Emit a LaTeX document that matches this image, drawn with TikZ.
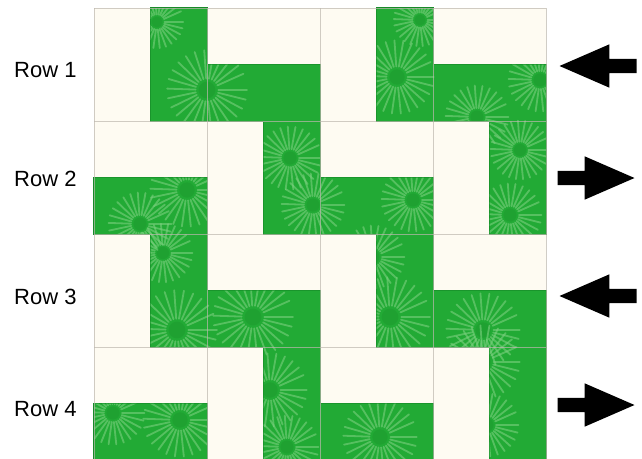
\documentclass[tikz,border=0pt]{standalone}
\usepackage{fontspec}
\setmainfont{Liberation Sans}
\usetikzlibrary{shapes.arrows}
\definecolor{cream}{HTML}{FEFBF2}
\definecolor{fabric}{HTML}{22AA35}
\definecolor{petal}{HTML}{7AD07E}
\definecolor{seam}{HTML}{BDB8AF}
\definecolor{hem}{HTML}{178A28}
\newcommand{\sunburst}[3]{\foreach \a in {0,14,...,346} \draw[petal,line width=1.8pt,line cap=round,opacity=0.6] (#1,#2) ++(\a:0.3*#3) -- ++(\a:0.75*#3);
  \fill[hem,opacity=0.25] (#1,#2) circle (0.22*#3);}

\begin{document}
\begin{tikzpicture}[x=1pt,y=-1pt]
\tikzstyle{rowlabel}=[inner sep=0pt,font=\fontsize{22}{26}\selectfont]
\tikzstyle{blockarrow}=[single arrow,fill=black,inner xsep=0pt,inner ysep=7pt,minimum height=77pt,single arrow head extend=14.5pt,single arrow tip angle=47,anchor=tip]
\tikzstyle{halves}=[insert path={foreach \r/\c in {1/1,1/3,2/2,2/4,3/1,3/3,4/2,4/4} {({113*\c-19+56.5},{113*\r-105}) rectangle +(56.5,113)}
  foreach \r/\c in {1/2,1/4,2/1,2/3,3/2,3/4,4/1,4/3} {({113*\c-19},{113*\r-105+56.5}) rectangle +(113,56.5)}}]
\clip (0,0) rectangle (642,458);
\fill[white] (0,0) rectangle (642,458);
\fill[cream] (94,8) rectangle (546,460);
% green halves of each block
\draw[hem,line width=1.2pt,halves];
\begin{scope}
\path[clip,halves];
\fill[fabric] (94,8) rectangle (546,460);
\sunburst{207}{90}{38} \sunburst{397}{77}{35} \sunburst{540}{80}{30} \sunburst{477}{117}{30}
\sunburst{157}{22}{25} \sunburst{187}{190}{35} \sunburst{140}{224}{30} \sunburst{290}{158}{30}
\sunburst{313}{205}{30} \sunburst{413}{200}{30} \sunburst{510}{215}{30} \sunburst{520}{150}{28}
\sunburst{177}{330}{38} \sunburst{253}{317}{38} \sunburst{390}{317}{38} \sunburst{483}{330}{35}
\sunburst{373}{257}{30} \sunburst{163}{253}{28} \sunburst{270}{390}{35} \sunburst{180}{420}{35}
\sunburst{113}{413}{30} \sunburst{380}{437}{35} \sunburst{483}{362}{35} \sunburst{487}{425}{30}
\sunburst{287}{447}{30} \sunburst{420}{20}{25}
\end{scope}
% seams between blocks
\foreach \i in {0,...,4} {
  \draw[seam,line width=1pt,opacity=0.7] ({94+113*\i},8) -- ({94+113*\i},460);
  \draw[seam,line width=1pt,opacity=0.7] (94,{8+113*\i}) -- (546,{8+113*\i});
}
\node[rowlabel,anchor=west] (row1) at (14,70) {Row 1};
\node[rowlabel,anchor=west] (row2) at (14,179) {Row 2};
\node[rowlabel,anchor=west] (row3) at (14,296.5) {Row 3};
\node[rowlabel,anchor=west] (row4) at (14,409.5) {Row 4};
\node[blockarrow,shape border rotate=180] (arrow1) at (559,66) {};
\node[blockarrow] (arrow2) at (635,178) {};
\node[blockarrow,shape border rotate=180] (arrow3) at (559,296) {};
\node[blockarrow] (arrow4) at (635,405) {};
\end{tikzpicture}
\end{document}
